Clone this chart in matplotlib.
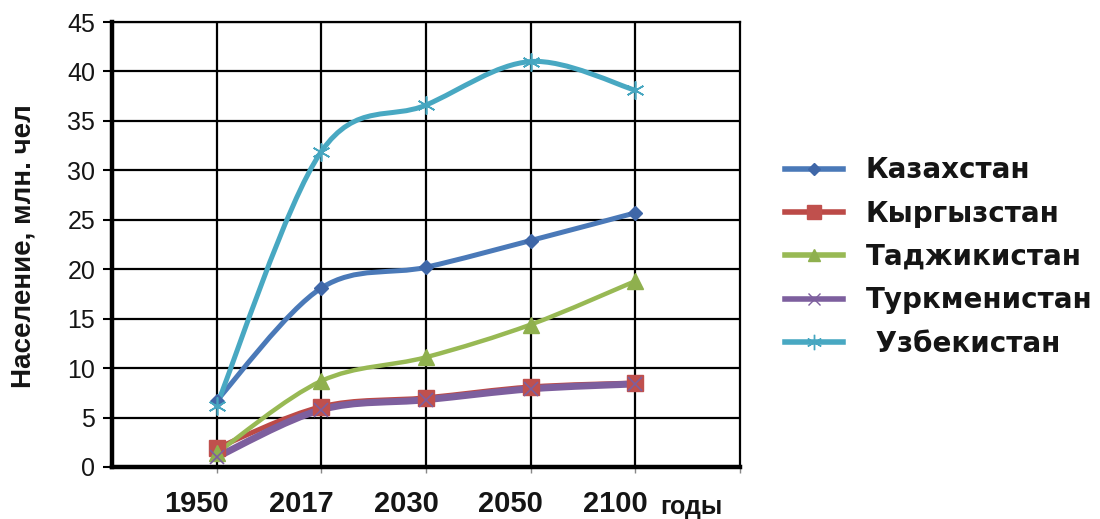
import matplotlib
matplotlib.use("Agg")
import matplotlib.pyplot as plt
import matplotlib.transforms as mtransforms
from matplotlib.path import Path
from matplotlib.patches import PathPatch
from matplotlib.lines import Line2D
import numpy as np

# Population, million people
years = ["1950", "2017", "2030", "2050", "2100"]
kazakhstan = [6.7, 18.1, 20.2, 22.9, 25.7]
kyrgyzstan = [1.9, 6.1, 7.0, 8.1, 8.5]
tajikistan = [1.4, 8.7, 11.1, 14.4, 18.8]
turkmenistan = [1.0, 5.8, 6.8, 7.9, 8.4]
uzbekistan = [6.2, 31.9, 36.6, 41.0, 38.1]
countries = ["Казахстан", "Кыргызстан", "Таджикистан", "Туркменистан", "Узбекистан"]
y_ticks = [0, 5, 10, 15, 20, 25, 30, 35, 40, 45]

plt.rcParams["font.family"] = ["Liberation Sans", "DejaVu Sans"]
TEXT = "#151515"

series = [kazakhstan, kyrgyzstan, tajikistan, turkmenistan, uzbekistan]
colors = ["#4A79B8", "#BC4A47", "#98B954", "#7D5F9E", "#48A8C2"]
marker_colors = ["#3F67A8", "#C0504D", "#8FB04E", "#7D5F9E", "#46A6C0"]
markers = ["D", "s", "^", "x", (6, 2, 0)]
msizes = [7, 12, 11, 10, 13]
line_w = [3.6, 3.6, 3.2, 5.0, 3.6]


def smooth_path(xs, ys):
    """Smoothed (Catmull-Rom style) Bezier path through the given points."""
    pts = np.column_stack([xs, ys]).astype(float)
    n = len(pts)
    verts = [pts[0]]
    codes = [Path.MOVETO]
    for i in range(n - 1):
        p0 = pts[i - 1] if i > 0 else pts[i]
        p1 = pts[i]
        p2 = pts[i + 1]
        p3 = pts[i + 2] if i + 2 < n else pts[i + 1]
        verts += [p1 + (p2 - p0) / 6.0, p2 - (p3 - p1) / 6.0, p2]
        codes += [Path.CURVE4] * 3
    return Path(verts, codes)


fig = plt.figure(figsize=(11, 5.19), dpi=100)
ax = fig.add_axes([0.1018, 0.1002, 0.5709, 0.8574])

x = np.arange(len(years))
handles = []
for i, (vals, name) in enumerate(zip(series, countries)):
    ax.add_patch(PathPatch(smooth_path(x, vals), facecolor="none",
                           edgecolor=colors[i], lw=line_w[i],
                           capstyle="round", joinstyle="round", zorder=3 + i * 0.1))
    mk = markers[i]
    ax.plot(x, vals, linestyle="none", marker=mk, ms=msizes[i],
            color=marker_colors[i], mec=marker_colors[i],
            mew=1.2 if mk in ("x",) or isinstance(mk, tuple) else 1.0,
            zorder=4 + i * 0.1)
    handles.append(Line2D([], [], color=colors[i], lw=4, marker=mk,
                          ms=msizes[i] * 0.85, mfc=marker_colors[i],
                          mec=marker_colors[i], mew=1.0))

ax.set_xlim(-1, 5)
ax.set_ylim(0, 45)
ax.set_yticks(y_ticks)
ax.set_yticklabels([str(v) for v in y_ticks], fontsize=18, color=TEXT)
ax.set_xticks(x)
ax.set_xticklabels(years, fontsize=21, fontweight="bold", color=TEXT)
ax.set_xticks([5], minor=True)

ax.grid(True, which="major", color="black", lw=1.6, zorder=1)
for side in ("left", "bottom"):
    ax.spines[side].set_linewidth(3.2)
for side in ("top", "right"):
    ax.spines[side].set_linewidth(1.6)
ax.spines["right"].set_zorder(1)

ax.tick_params(axis="y", direction="out", length=6.5, width=1.5, pad=5.5)
ax.tick_params(axis="x", which="both", direction="out", length=4, width=1.0,
               color="#888888", pad=12.5)

offset = mtransforms.ScaledTranslation(-0.20, 0, fig.dpi_scale_trans)
for lab in ax.get_xticklabels():
    lab.set_transform(lab.get_transform() + offset)

fig.text(660 / 1100, 1 - 514 / 519, "годы", fontsize=18, fontweight="bold",
         color=TEXT, ha="left", va="baseline")
fig.text(24 / 1100, 1 - 246 / 519, "Население, млн. чел", fontsize=20,
         fontweight="bold", color=TEXT, rotation=90, ha="center", va="center")

labels = countries[:-1] + [" " + countries[-1]]
leg = ax.legend(handles, labels, loc="center left",
                bbox_to_anchor=(785 / 1100, 1 - 257 / 519),
                bbox_transform=fig.transFigure, frameon=False,
                borderaxespad=0, borderpad=0, handlelength=2.1,
                handletextpad=0.8, labelspacing=0.55,
                prop={"family": "DejaVu Sans", "weight": "bold", "size": 20})
for t in leg.get_texts():
    t.set_color(TEXT)

fig.savefig("out.png", dpi=100, facecolor="white")
